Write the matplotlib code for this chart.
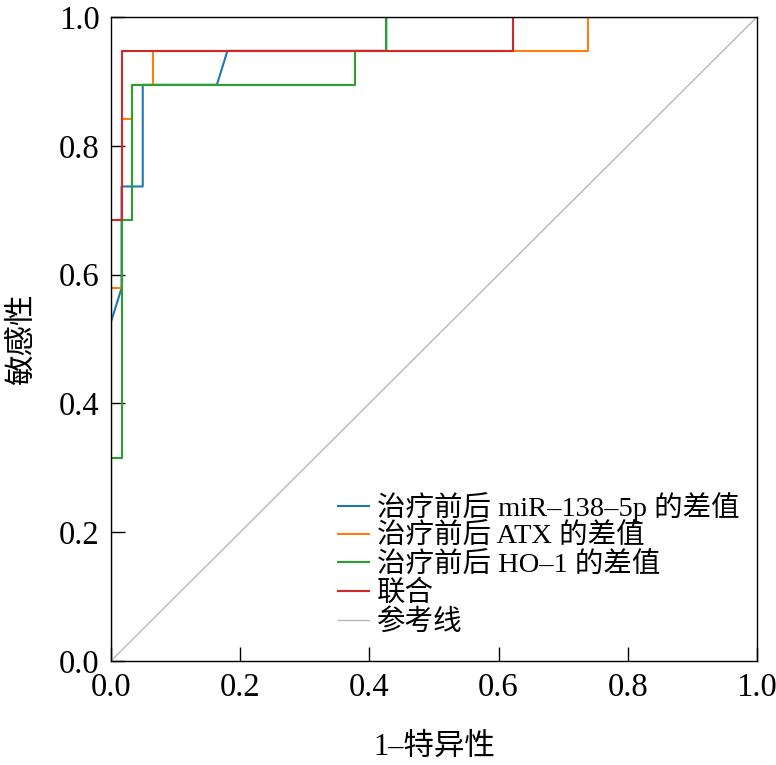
import numpy as np
import matplotlib
matplotlib.use("Agg")
import matplotlib.pyplot as plt

plt.rcParams['font.family'] = ['Liberation Serif', 'Noto Sans CJK SC', 'DejaVu Sans']

# ROC curve vertices (1-specificity, sensitivity)
mir_fpr = [0, 0, 0.0164, 0.0164, 0.0492, 0.0492, 0.1639, 0.1803, 0.4262, 0.4262, 1.0]
mir_tpr = [0, 0.5263, 0.5789, 0.7368, 0.7368, 0.8947, 0.8947, 0.9474, 0.9474, 1.0, 1.0]

atx_fpr = [0, 0, 0.0164, 0.0164, 0.0328, 0.0328, 0.0656, 0.0656, 0.7377, 0.7377, 1.0]
atx_tpr = [0, 0.5789, 0.5789, 0.8421, 0.8421, 0.8947, 0.8947, 0.9474, 0.9474, 1.0, 1.0]

ho1_fpr = [0, 0, 0.0164, 0.0164, 0.0328, 0.0328, 0.3770, 0.3770, 0.4262, 0.4262, 1.0]
ho1_tpr = [0, 0.3158, 0.3158, 0.6842, 0.6842, 0.8947, 0.8947, 0.9474, 0.9474, 1.0, 1.0]

comb_fpr = [0, 0, 0.0164, 0.0164, 0.6230, 0.6230, 1.0]
comb_tpr = [0, 0.6842, 0.6842, 0.9474, 0.9474, 1.0, 1.0]

labels = ['治疗前后 miR–138–5p 的差值', '治疗前后 ATX 的差值',
          '治疗前后 HO–1 的差值', '联合', '参考线']
ticks = [0.0, 0.2, 0.4, 0.6, 0.8, 1.0]

fig = plt.figure(figsize=(7.76, 7.65), dpi=100)
ax = fig.add_axes([0.143, 0.136, 0.8325, 0.8418])

ax.plot(mir_fpr, mir_tpr, color='#1f77b4', lw=1.5, label=labels[0])
ax.plot(atx_fpr, atx_tpr, color='#ff7f0e', lw=1.5, label=labels[1])
ax.plot(ho1_fpr, ho1_tpr, color='#2ca02c', lw=1.5, label=labels[2])
ax.plot(comb_fpr, comb_tpr, color='#d62728', lw=1.5, label=labels[3])
ax.plot([0, 1], [0, 1], color='#b8b8b8', lw=1.0, label=labels[4])

ax.set_xlim(0, 1)
ax.set_ylim(0, 1)
ax.set_xticks(ticks)
ax.set_yticks(ticks)
ax.set_xticklabels(['%.1f' % t for t in ticks])
ax.set_yticklabels(['%.1f' % t for t in ticks])
ax.tick_params(direction='in', length=10, width=1, labelsize=23.5)
ax.tick_params(axis='x', pad=8)
ax.tick_params(axis='y', pad=8)
for s in ax.spines.values():
    s.set_linewidth(1.0)

ax.set_xlabel('1–特异性', fontsize=22, labelpad=22)
ax.set_ylabel('敏感性', fontsize=22, labelpad=16)

leg = ax.legend(loc='upper left', bbox_to_anchor=(0.351, 0.262), frameon=False,
                fontsize=20.5, handlelength=1.1, handletextpad=0.28,
                labelspacing=0.07, borderpad=0, borderaxespad=0)

fig.savefig('out.png', dpi=100)
